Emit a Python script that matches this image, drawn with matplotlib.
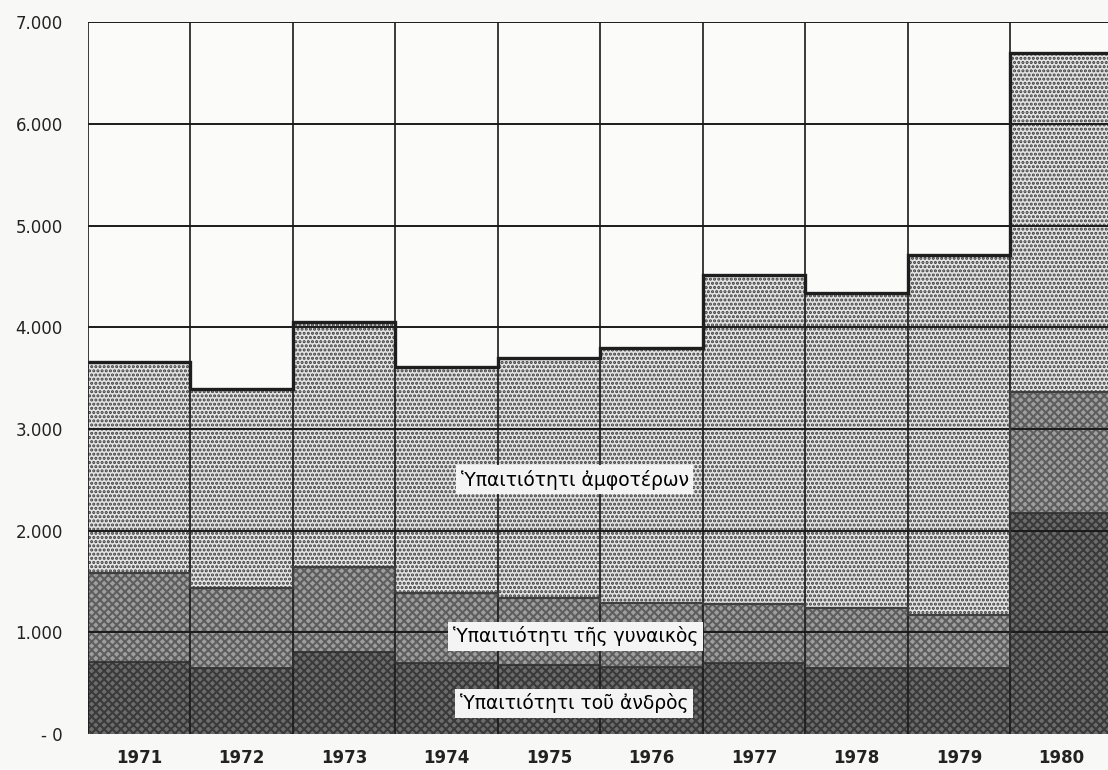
import numpy as np
import matplotlib.pyplot as plt

years = ["1971", "1972", "1973", "1974", "1975", "1976", "1977", "1978", "1979", "1980"]
# cumulative heights
man_top = [710, 650, 800, 700, 680, 660, 700, 650, 650, 2170]
woman_top = [1580, 1430, 1640, 1390, 1340, 1290, 1280, 1240, 1170, 3360]
total_top = [3660, 3390, 4050, 3610, 3700, 3800, 4510, 4340, 4710, 6700]

ytick_vals = [0, 1000, 2000, 3000, 4000, 5000, 6000, 7000]
ytick_labels = ["- 0", "1.000", "2.000", "3.000", "4.000", "5.000", "6.000", "7.000"]

lbl_both = "Ὑπαιτιότητι ἀμφοτέρων"
lbl_woman = "Ὑπαιτιότητι τῆς γυναικὸς"
lbl_man = "Ὑπαιτιότητι τοῦ ἀνδρὸς"

man = np.array(man_top)
woman = np.array(woman_top) - man
both = np.array(total_top) - np.array(woman_top)
x = np.arange(len(years))

plt.rcParams["hatch.linewidth"] = 1.5
fig = plt.figure(figsize=(11.08, 7.70), dpi=100, facecolor="#f8f8f6")
ax = fig.add_axes([0.0794, 0.047, 0.925, 0.924])
ax.set_facecolor("#fbfbfa")

ax.bar(x, man, width=1.0, align="edge", color="#6c6c6c", edgecolor="#3a3a3a",
       hatch="xxxx", linewidth=0, zorder=1)
ax.bar(x, woman, bottom=man, width=1.0, align="edge", color="#9e9e9e",
       edgecolor="#5e5e5e", hatch="xxxx", linewidth=0, zorder=1)
ax.bar(x, both, bottom=np.array(woman_top), width=1.0, align="edge", color="#e4e4e4",
       edgecolor="#3c3c3c", hatch="....", linewidth=0, zorder=1)

# step outlines on top of each layer
xs = np.arange(len(years) + 1)
ax.stairs(total_top, xs, color="#1e1e1e", linewidth=2.4, zorder=3, baseline=None)
ax.stairs(woman_top, xs, color="#3e3e3e", linewidth=1.6, zorder=3, baseline=None)
ax.stairs(man_top, xs, color="#2e2e2e", linewidth=1.2, zorder=3, baseline=None)

# grid
for v in ytick_vals[1:]:
    ax.axhline(v, color="#1a1a1a", linewidth=1.4, zorder=2)
for xv in xs:
    ax.axvline(xv, color="#1a1a1a", linewidth=1.2, zorder=2)

ax.set_xlim(0, len(years))
ax.set_ylim(0, 7000)
ax.set_yticks(ytick_vals)
ax.set_yticklabels(ytick_labels, fontsize=12, color="#222222")
ax.set_xticks(x + 0.5)
ax.set_xticklabels(years, fontsize=12, color="#222222", fontweight="bold")
ax.tick_params(length=0, pad=11)
ax.tick_params(axis="y", pad=18)
for s in ax.spines.values():
    s.set_visible(False)

box = dict(boxstyle="square,pad=0.25", facecolor="#f4f4f4", edgecolor="none")
ax.text(4.75, 2500, lbl_both, ha="center", va="center", fontsize=13.5, bbox=box, zorder=5)
ax.text(4.76, 960, lbl_woman, ha="center", va="center", fontsize=13.5, bbox=box, zorder=5)
ax.text(4.74, 300, lbl_man, ha="center", va="center", fontsize=13.5, bbox=box, zorder=5)

fig.savefig("out.png", dpi=100, facecolor=fig.get_facecolor())
